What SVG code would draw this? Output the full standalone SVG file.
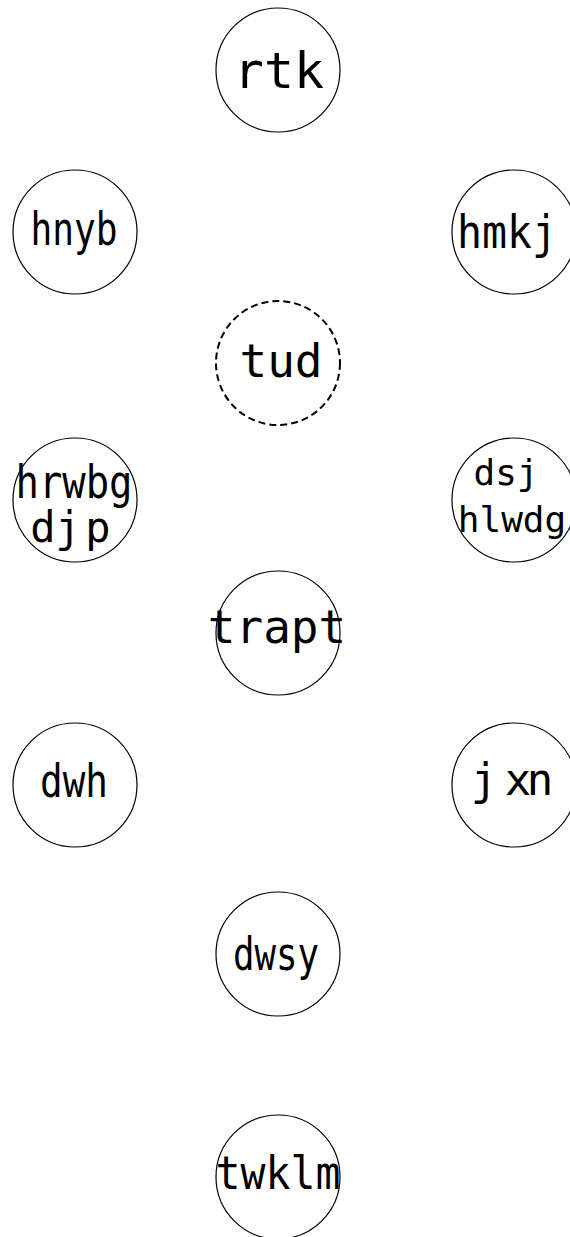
<svg xmlns="http://www.w3.org/2000/svg" width="570" height="1237" viewBox="0 0 570 1237">
<style>
.n{fill:#fff;stroke:#000;stroke-width:1.2}
.d{fill:#fff;stroke:#000;stroke-width:2;stroke-dasharray:7 4}
.t{font-family:"DejaVu Sans Mono",monospace;font-size:46px;fill:#000;text-anchor:middle}
</style>
<g id="connectors"></g>
<g id="rtk"><circle class="n" cx="278" cy="70" r="62"/><text class="t" x="279" y="88" style="font-size:50px">rtk</text></g>
<g id="hnyb"><circle class="n" cx="75" cy="232" r="62"/><text class="t" x="74" y="245" textLength="87" lengthAdjust="spacingAndGlyphs">hnyb</text></g>
<g id="hmkj"><circle class="n" cx="514" cy="232" r="62"/><text class="t" x="507" y="248" textLength="100" lengthAdjust="spacingAndGlyphs">hmkj</text></g>
<g id="tud"><circle class="d" cx="278" cy="363" r="62"/><text class="t" x="281" y="377">tud</text></g>
<g id="hrwbg"><circle class="n" cx="75" cy="500" r="62"/><text class="t" x="74" y="498" textLength="117" lengthAdjust="spacingAndGlyphs">hrwbg</text><text class="t" x="43 68 98" y="542" style="font-size:42px">djp</text></g>
<g id="dsj"><circle class="n" cx="514" cy="500" r="62"/><text class="t" x="506" y="485" style="font-size:36px">dsj</text><text class="t" x="512" y="532" style="font-size:36px">hlwdg</text></g>
<g id="trapt"><circle class="n" cx="278" cy="633" r="62"/><text class="t" x="277" y="643">trapt</text></g>
<g id="dwh"><circle class="n" cx="75" cy="785" r="62"/><text class="t" x="74" y="797" textLength="68" lengthAdjust="spacingAndGlyphs">dwh</text></g>
<g id="jxn"><circle class="n" cx="514" cy="785" r="62"/><text class="t" x="484 518 540" y="795" style="font-size:44px">jxn</text></g>
<g id="dwsy"><circle class="n" cx="278" cy="954" r="62"/><text class="t" x="276" y="970" textLength="86" lengthAdjust="spacingAndGlyphs">dwsy</text></g>
<g id="twklm"><circle class="n" cx="278" cy="1177" r="62"/><text class="t" x="278" y="1189" textLength="125" lengthAdjust="spacingAndGlyphs">twklm</text></g>
</svg>
